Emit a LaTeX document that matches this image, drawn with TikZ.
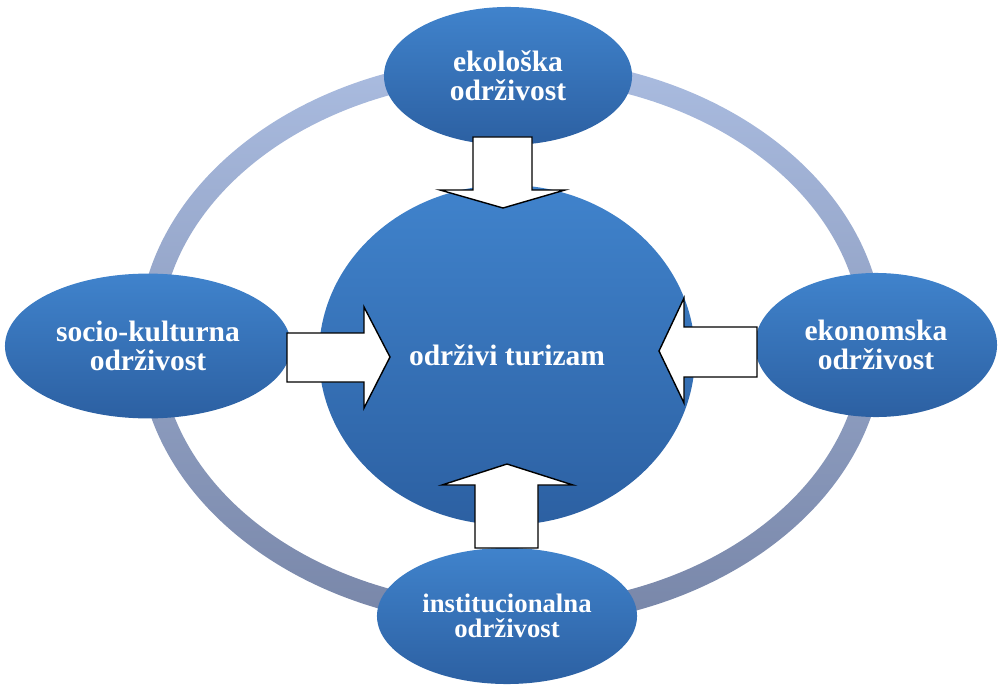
\documentclass[tikz,border=0pt]{standalone}
\usepackage{fontspec}
\setmainfont{Liberation Serif}
\usetikzlibrary{shapes.geometric}
\definecolor{plavaGore}{RGB}{64,131,204}
\definecolor{plavaDolje}{RGB}{44,96,162}
\definecolor{prstenGore}{RGB}{170,188,224}
\definecolor{prstenDolje}{RGB}{120,134,168}

\begin{document}
\begin{tikzpicture}[
    x={(0.025cm,0cm)},
    y={(0cm,-0.025cm)},
    krug/.style={ellipse, inner sep=0pt, top color=plavaGore, bottom color=plavaDolje,
        text=white, align=center, font=\fontsize{21}{20.4}\selectfont\bfseries},
    strelica/.style={draw=black, line width=1pt, fill=white, line join=miter}
]
\useasboundingbox (0,0) rectangle (998,689);

% Prsten
\shade[top color=prstenGore, bottom color=prstenDolje, even odd rule]
    (511,342) ellipse [x radius=373, y radius=285]
    (511,342) ellipse [x radius=351, y radius=263];

% Sredina
\node[krug, minimum width=9.4cm, minimum height=8.5cm] (turizam) at (507,355) {održivi turizam};

% Dimenzije
\node[krug, minimum width=6.2cm, minimum height=3.45cm] (ekoloska) at (508,76) {ekološka\\održivost};
\node[krug, minimum width=7.15cm, minimum height=3.62cm] (socio) at (148,346) {socio-kulturna\\održivost};
\node[krug, minimum width=6.05cm, minimum height=3.6cm] (ekonomska) at (876,345) {ekonomska\\održivost};
\node[krug, minimum width=6.5cm, minimum height=3.4cm, font=\fontsize{19}{17.6}\selectfont\bfseries]
    (institucionalna) at (507,616) {institucionalna\\održivost};

% Strelice
\draw[strelica] (473,137) -- (532,137) -- (532,190) -- (565,190) -- (503,208) -- (440,190) -- (473,190) -- cycle;
\draw[strelica] (287,333) -- (364,333) -- (364,307) -- (390,357) -- (364,408) -- (364,382) -- (287,382) -- cycle;
\draw[strelica] (757,327) -- (684,327) -- (684,298) -- (659,351) -- (684,403) -- (684,377) -- (757,377) -- cycle;
\draw[strelica] (475,548) -- (475,485) -- (442,485) -- (507,464) -- (573,485) -- (538,485) -- (538,548) -- cycle;

\end{tikzpicture}
\end{document}
